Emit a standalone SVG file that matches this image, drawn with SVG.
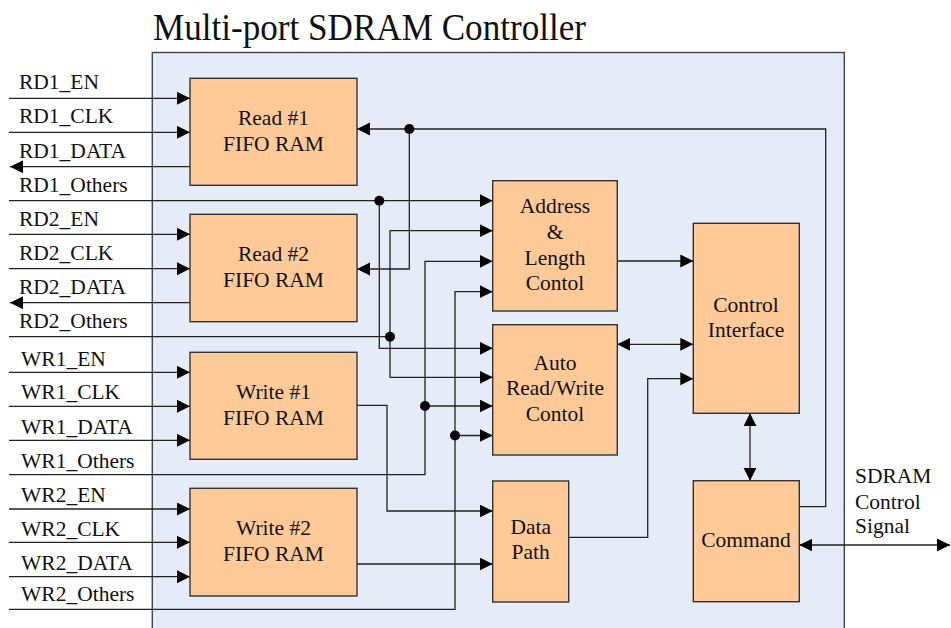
<svg xmlns="http://www.w3.org/2000/svg" width="951" height="628" viewBox="0 0 951 628">
  <style>
    text { font-family: "Liberation Serif", "Times New Roman", serif; font-size: 21.5px; fill: #111; }
    .title { font-size: 37px; }
    .mid { text-anchor: middle; }
    .box { fill: #ffca98; stroke: #333; stroke-width: 1.4; }
    .frame { fill: #e6ecf7; stroke: #444; stroke-width: 1.4; }
    .wire { fill: none; stroke: #222; stroke-width: 1.3; }
    .arr { marker-end: url(#head); }
    .both { marker-start: url(#head); marker-end: url(#head); }
    .dot { fill: #000; }
  </style>
  <defs>
    <marker id="head" markerUnits="userSpaceOnUse" markerWidth="14" markerHeight="14" refX="13" refY="6.5" orient="auto-start-reverse">
      <path d="M0,0 L13,6.5 L0,13 Z" fill="#000"/>
    </marker>
  </defs>

  <rect width="951" height="628" fill="#fff"/>

  <!-- controller frame -->
  <g id="controller">
    <rect class="frame" x="152.3" y="52.5" width="692" height="590"/>
    <text class="title" x="153" y="39.5" textLength="433" lengthAdjust="spacingAndGlyphs">Multi-port SDRAM Controller</text>
  </g>

  <!-- port labels -->
  <g id="port-labels">
    <text x="19" y="89.3">RD1_EN</text>
    <text x="19" y="123.3">RD1_CLK</text>
    <text x="19" y="157.5">RD1_DATA</text>
    <text x="19" y="191.7">RD1_Others</text>
    <text x="19" y="225.5">RD2_EN</text>
    <text x="19" y="259.7">RD2_CLK</text>
    <text x="19" y="293.7">RD2_DATA</text>
    <text x="19" y="327.7">RD2_Others</text>
    <text x="21" y="365.7">WR1_EN</text>
    <text x="21" y="399.3">WR1_CLK</text>
    <text x="21" y="434">WR1_DATA</text>
    <text x="21" y="468">WR1_Others</text>
    <text x="21" y="501.7">WR2_EN</text>
    <text x="21" y="535.7">WR2_CLK</text>
    <text x="21" y="570">WR2_DATA</text>
    <text x="21" y="600.7">WR2_Others</text>
    <text x="855" y="483.3">SDRAM</text>
    <text x="855" y="509">Control</text>
    <text x="855" y="533.3">Signal</text>
  </g>

  <!-- connectors -->
  <g id="connectors">
    <path class="wire arr" d="M9,98.3 H190"/>
    <path class="wire arr" d="M9,132.3 H190"/>
    <path class="wire arr" d="M190,166.7 H10"/>
    <path class="wire arr" d="M9,200.7 H492.7"/>
    <path class="wire arr" d="M9,234.3 H190"/>
    <path class="wire arr" d="M9,268.7 H190"/>
    <path class="wire arr" d="M190,302.7 H10"/>
    <path class="wire" d="M9,336.7 H390"/>
    <path class="wire arr" d="M9,372.3 H190"/>
    <path class="wire arr" d="M9,406.3 H190"/>
    <path class="wire arr" d="M9,440.3 H190"/>
    <path class="wire arr" d="M9,474.7 H425 V261.3 H492.7"/>
    <path class="wire arr" d="M9,509 H190"/>
    <path class="wire arr" d="M9,542.3 H190"/>
    <path class="wire arr" d="M9,576.7 H190"/>
    <path class="wire arr" d="M9,609.3 H455 V291.7 H492.7"/>

    <path class="wire arr" d="M379.3,200.7 V348.3 H492.7"/>
    <path class="wire arr" d="M390,336.7 V230.7 H492.7"/>
    <path class="wire arr" d="M390,336.7 V377.3 H492.7"/>
    <path class="wire arr" d="M425,406 H492.7"/>
    <path class="wire arr" d="M455,435.5 H492.7"/>

    <path class="wire arr" d="M799.3,506.7 H825.7 V129 H357"/>
    <path class="wire arr" d="M409.3,129 V269 H357"/>

    <path class="wire arr" d="M357,405.3 H387 V511 H492.7"/>
    <path class="wire arr" d="M357,564 H492.7"/>

    <path class="wire arr" d="M617.3,261 H693.3"/>
    <path class="wire both" d="M617.3,344.3 H693.3"/>
    <path class="wire arr" d="M568.7,537.3 H647.7 V378.7 H693.3"/>
    <path class="wire both" d="M750,413.3 V480.7"/>
    <path class="wire both" d="M799.3,545 H950"/>

    <circle class="dot" cx="409.3" cy="129" r="5"/>
    <circle class="dot" cx="379.3" cy="200.7" r="5"/>
    <circle class="dot" cx="390" cy="336.7" r="5"/>
    <circle class="dot" cx="425" cy="406" r="5"/>
    <circle class="dot" cx="455" cy="435.5" r="5"/>
  </g>

  <!-- blocks -->
  <g id="read1">
    <rect class="box" x="190" y="78.3" width="167" height="107"/>
    <text class="mid" x="273.5" y="125">Read #1</text>
    <text class="mid" x="273.5" y="150.7">FIFO RAM</text>
  </g>
  <g id="read2">
    <rect class="box" x="190" y="214.3" width="167" height="107.4"/>
    <text class="mid" x="273.5" y="261">Read #2</text>
    <text class="mid" x="273.5" y="286.7">FIFO RAM</text>
  </g>
  <g id="write1">
    <rect class="box" x="190" y="352.3" width="167" height="107"/>
    <text class="mid" x="273.5" y="399.3">Write #1</text>
    <text class="mid" x="273.5" y="425">FIFO RAM</text>
  </g>
  <g id="write2">
    <rect class="box" x="190" y="488.3" width="167" height="107.7"/>
    <text class="mid" x="273.5" y="535">Write #2</text>
    <text class="mid" x="273.5" y="560.7">FIFO RAM</text>
  </g>
  <g id="address-length">
    <rect class="box" x="492.7" y="180.7" width="124.6" height="130.3"/>
    <text class="mid" x="555" y="213.3">Address</text>
    <text class="mid" x="555" y="239.3">&amp;</text>
    <text class="mid" x="555" y="265">Length</text>
    <text class="mid" x="555" y="290">Contol</text>
  </g>
  <g id="auto-rw">
    <rect class="box" x="492.7" y="324.7" width="124.6" height="130.3"/>
    <text class="mid" x="555" y="370">Auto</text>
    <text class="mid" x="555" y="395">Read/Write</text>
    <text class="mid" x="555" y="420.7">Contol</text>
  </g>
  <g id="data-path">
    <rect class="box" x="492.7" y="481" width="76" height="121"/>
    <text class="mid" x="530.7" y="534.3">Data</text>
    <text class="mid" x="530.7" y="559.3">Path</text>
  </g>
  <g id="control-interface">
    <rect class="box" x="693.3" y="223.3" width="106" height="190"/>
    <text class="mid" x="746" y="312.3">Control</text>
    <text class="mid" x="746" y="336.7">Interface</text>
  </g>
  <g id="command">
    <rect class="box" x="693.3" y="480.7" width="106" height="121"/>
    <text class="mid" x="746" y="546.7">Command</text>
  </g>
</svg>
